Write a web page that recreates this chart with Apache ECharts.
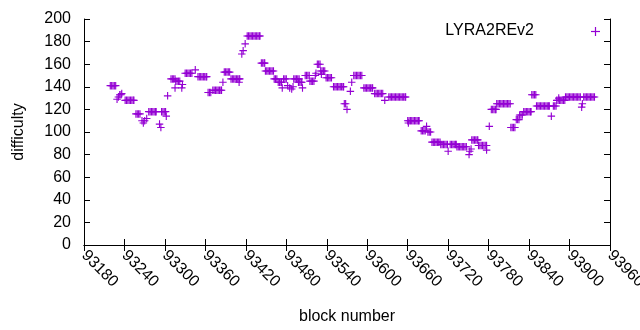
<!DOCTYPE html>
<html>
<head>
<meta charset="utf-8">
<script src="https://cdn.jsdelivr.net/npm/echarts@6/dist/echarts.min.js"></script>
<style>html,body{margin:0;padding:0;background:#fff}#c{width:640px;height:330px}</style>
</head>
<body>
<div id="c"></div>
<script>
const seriesName = 'LYRA2REv2';
const xTicks = { min: 93180, max: 93960, interval: 60 };
const yTicks = { min: 0, max: 200, interval: 20 };

const blocks = [
  93219, 93221, 93223, 93225, 93227,
  93229, 93231, 93233, 93235, 93236,
  93241, 93243, 93245, 93247, 93249, 93251, 93253, 93254,
  93257, 93259, 93261, 93263,
  93266, 93268, 93270, 93273,
  93276, 93278, 93280, 93282, 93284, 93286, 93287,
  93292, 93294,
  93295, 93297, 93299, 93301, 93302, 93304,
  93309, 93311, 93313, 93315, 93315,
  93316, 93318, 93320, 93322, 93325, 93326,
  93330, 93332, 93334, 93336, 93338, 93340, 93345,
  93349, 93351, 93353, 93355, 93357, 93359, 93361, 93362,
  93364, 93366, 93368,
  93371, 93373, 93375, 93377, 93379, 93381, 93383, 93384, 93386,
  93388, 93390, 93392, 93394, 93396,
  93398, 93400, 93402, 93404, 93406, 93408, 93410, 93411, 93410,
  93414, 93416, 93419,
  93422, 93424, 93426, 93428, 93430, 93432, 93434, 93436, 93438, 93440, 93441,
  93443, 93445, 93447, 93448,
  93449, 93451, 93453, 93455, 93457, 93459, 93461,
  93462, 93464, 93466, 93468, 93470, 93472, 93473, 93474,
  93476, 93478, 93480, 93482, 93485, 93488, 93490,
  93491, 93493, 93495, 93497, 93499,
  93498, 93500, 93502, 93503, 93504,
  93508, 93510, 93512, 93514, 93515, 93517, 93519, 93521,
  93523, 93524, 93526, 93528, 93530,
  93531, 93532, 93533, 93535, 93537,
  93539, 93541, 93543, 93545, 93547,
  93550, 93552, 93554, 93556, 93558, 93560, 93562, 93564, 93565,
  93566, 93568, 93570, 93575, 93577,
  93580, 93582, 93584, 93586, 93588, 93590, 93592,
  93595, 93597, 93599, 93601, 93603, 93605, 93607, 93608,
  93611, 93613, 93615, 93617, 93619, 93621, 93623, 93626,
  93632, 93634, 93636, 93638, 93640, 93642, 93644, 93646, 93648, 93650, 93652, 93654, 93656, 93657,
  93660, 93661, 93662, 93664, 93666, 93668, 93670, 93672, 93674, 93676, 93677,
  93680, 93682, 93684, 93686, 93688, 93690, 93692, 93694,
  93696, 93698, 93700, 93702, 93704, 93706, 93708,
  93709, 93711, 93713, 93715, 93717, 93719, 93720,
  93723, 93725, 93727, 93729, 93731, 93732,
  93733, 93735, 93737, 93739, 93741, 93743, 93745, 93747,
  93751, 93752, 93754,
  93755, 93757, 93759, 93761, 93763, 93764,
  93765, 93767, 93769, 93771, 93773, 93775, 93777, 93777, 93781,
  93784, 93786, 93788, 93790, 93791,
  93792, 93794, 93796, 93798, 93800, 93802, 93804, 93806, 93808, 93810, 93812,
  93813, 93815, 93817, 93819, 93821, 93823, 93825, 93826, 93828, 93830,
  93832, 93834, 93836, 93838, 93840, 93842, 93843,
  93844, 93846, 93848, 93850,
  93851, 93853, 93855, 93857, 93859, 93861, 93863, 93865, 93867, 93869, 93870, 93873,
  93876, 93878, 93880, 93881, 93883, 93884, 93885, 93887, 93889, 93891, 93893,
  93894, 93896, 93898, 93900, 93902, 93904, 93906, 93908, 93910, 93912, 93914, 93916, 93918, 93919,
  93921, 93923, 93925, 93927, 93929, 93931, 93933, 93935, 93937
];

const difficulty = [
  141, 141, 141, 141, 141,
  129, 131, 133, 133, 134,
  128, 128, 128, 128, 128, 128, 128, 128,
  116, 116, 116, 116,
  110, 108, 110, 112,
  118, 118, 118, 118, 118, 118, 118,
  107, 104,
  118, 118, 118, 118, 114, 132,
  147, 147, 147, 147, 139,
  145, 145, 145, 145, 139, 142,
  152, 152, 152, 152, 152, 152, 155,
  149, 149, 149, 149, 149, 149, 149, 149,
  135, 135, 135,
  137, 137, 137, 137, 137, 137, 137, 137, 144,
  153, 153, 153, 153, 153,
  147, 147, 147, 147, 147, 147, 147, 147, 144,
  169, 172, 178,
  185, 185, 185, 185, 185, 185, 185, 185, 185, 185, 185,
  161, 161, 161, 161,
  154, 154, 154, 154, 154, 154, 154,
  147, 147, 147, 144, 144, 144, 144, 139,
  147, 147, 147, 141, 139, 138, 140,
  147, 147, 147, 147, 147,
  144, 144, 144, 144, 139,
  150, 150, 150, 150, 145, 145, 145, 145,
  150, 152, 160, 160, 160,
  154, 151, 154, 154, 154,
  148, 148, 148, 148, 148,
  140, 140, 140, 140, 140, 140, 140, 140, 140,
  125, 125, 120, 136, 144,
  150, 150, 150, 150, 150, 150, 150,
  139, 139, 139, 139, 139, 139, 139, 139,
  134, 134, 134, 134, 134, 134, 134, 128,
  131, 131, 131, 131, 131, 131, 131, 131, 131, 131, 131, 131, 131, 131,
  110, 108, 110, 110, 110, 110, 110, 110, 110, 110, 110,
  101, 101, 101, 101, 105, 100, 100, 100,
  91, 91, 91, 91, 91, 91, 91,
  89, 89, 89, 89, 89, 89, 83,
  89, 89, 89, 89, 89, 89,
  87, 87, 87, 87, 87, 87, 87, 87,
  80, 83, 85,
  93, 93, 93, 93, 93, 93,
  88, 88, 88, 88, 88, 88, 88, 84, 105,
  120, 120, 120, 120, 120,
  125, 125, 125, 125, 125, 125, 125, 125, 125, 125, 125,
  104, 104, 104, 104, 111, 111, 111, 115, 115, 115,
  118, 118, 118, 118, 118, 118, 118,
  133, 133, 133, 133,
  123, 123, 123, 123, 123, 123, 123, 123, 123, 123, 123, 114,
  123, 123, 123, 128, 128, 130, 128, 128, 128, 128, 128,
  131, 131, 131, 131, 131, 131, 131, 131, 131, 131, 131, 131, 122, 125,
  131, 131, 131, 131, 131, 131, 131, 131, 131
];

const PLUS = 'path://M8.5,0h3v8.5h8.5v3h-8.5v8.5h-3v-8.5h-8.5v-3h8.5z';
const COLOR = '#9400D3';
const FONT = '"Liberation Sans", Arial, sans-serif';

const chart = echarts.init(document.getElementById('c'), null, { renderer: 'canvas' });
const data = blocks.map((b, i) => [b, difficulty[i]]);

const baseAxisLine = { show: true, lineStyle: { color: '#000', width: 1 } };
const tick = { show: true, inside: true, length: 6, lineStyle: { color: '#000', width: 1 } };

chart.setOption({
  animation: false,
  backgroundColor: '#fff',
  grid: { left: 84, right: 30, top: 19, bottom: 85, containLabel: false, outerBoundsMode: 'none' },
  xAxis: [
    {
      type: 'value', position: 'bottom', min: xTicks.min, max: xTicks.max, interval: xTicks.interval,
      axisLine: baseAxisLine, axisTick: tick, splitLine: { show: false },
      axisLabel: { rotate: -45, margin: 8, color: '#000', fontSize: 16, fontFamily: FONT, showMaxLabel: true, showMinLabel: true, hideOverlap: false, formatter: v => String(v) },
      name: 'block number', nameLocation: 'middle', nameGap: 64,
      nameTextStyle: { color: '#000', fontSize: 16, fontFamily: FONT }
    },
    {
      type: 'value', position: 'top', min: xTicks.min, max: xTicks.max, interval: xTicks.interval,
      axisLine: baseAxisLine, axisTick: tick, axisLabel: { show: false }, splitLine: { show: false }
    }
  ],
  yAxis: [
    {
      type: 'value', position: 'left', min: yTicks.min, max: yTicks.max, interval: yTicks.interval,
      axisLine: baseAxisLine, axisTick: tick, splitLine: { show: false },
      axisLabel: { margin: 13, color: '#000', fontSize: 16, fontFamily: FONT },
      name: 'difficulty', nameLocation: 'middle', nameGap: 57,
      nameTextStyle: { color: '#000', fontSize: 16, fontFamily: FONT }
    },
    {
      type: 'value', position: 'right', min: yTicks.min, max: yTicks.max, interval: yTicks.interval,
      axisLine: baseAxisLine, axisTick: tick, axisLabel: { show: false }, splitLine: { show: false }
    }
  ],
  series: [{
    name: seriesName,
    type: 'scatter',
    xAxisIndex: 0, yAxisIndex: 0,
    symbol: PLUS,
    symbolSize: 7.5,
    itemStyle: { color: COLOR, opacity: 1 },
    data: data
  }],
  graphic: [
    { type: 'text', x: 534, y: 31, style: { text: seriesName, textAlign: 'right', textVerticalAlign: 'middle', fill: '#000', fontSize: 16, fontFamily: FONT } },
    { type: 'line', shape: { x1: 591, y1: 31.5, x2: 600, y2: 31.5 }, style: { stroke: COLOR, lineWidth: 1.2 } },
    { type: 'line', shape: { x1: 595.5, y1: 27, x2: 595.5, y2: 36 }, style: { stroke: COLOR, lineWidth: 1.2 } }
  ]
});
</script>
</body>
</html>
